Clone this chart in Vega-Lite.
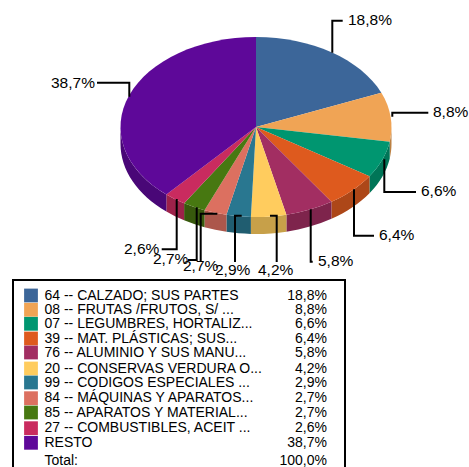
{"$schema":"https://vega.github.io/schema/vega-lite/v6.json","background":"white","padding":{"left":12,"top":0,"right":0,"bottom":0},"spacing":0,"bounds":"flush","datasets":{"rows":[{"rank":1,"name":"64 -- CALZADO; SUS PARTES","value":18.8,"label":"18,8%"},{"rank":2,"name":"08 -- FRUTAS /FRUTOS, S/ ...","value":8.8,"label":"8,8%"},{"rank":3,"name":"07 -- LEGUMBRES, HORTALIZ...","value":6.6,"label":"6,6%"},{"rank":4,"name":"39 -- MAT. PLÁSTICAS; SUS...","value":6.4,"label":"6,4%"},{"rank":5,"name":"76 -- ALUMINIO Y SUS MANU...","value":5.8,"label":"5,8%"},{"rank":6,"name":"20 -- CONSERVAS VERDURA O...","value":4.2,"label":"4,2%"},{"rank":7,"name":"99 -- CODIGOS ESPECIALES ...","value":2.9,"label":"2,9%"},{"rank":8,"name":"84 -- MÁQUINAS Y APARATOS...","value":2.7,"label":"2,7%"},{"rank":9,"name":"85 -- APARATOS Y MATERIAL...","value":2.7,"label":"2,7%"},{"rank":10,"name":"27 -- COMBUSTIBLES, ACEIT ...","value":2.6,"label":"2,6%"},{"rank":11,"name":"RESTO","value":38.7,"label":"38,7%"},{"rank":12,"name":"Total:","value":100,"label":"100,0%"}]},"vconcat":[{"width":455,"height":280,"view":{"stroke":null},"data":{"name":"rows"},"transform":[{"filter":"datum.rank <= 11"}],"resolve":{"scale":{"shape":"independent","color":"independent"}},"layer":[{"transform":[{"filter":"datum.rank >= 2"}],"mark":{"type":"point","filled":true,"opacity":1,"size":4,"strokeWidth":0},"encoding":{"shape":{"field":"name","type":"nominal","legend":null,"scale":{"domain":["08 -- FRUTAS /FRUTOS, S/ ...","07 -- LEGUMBRES, HORTALIZ...","39 -- MAT. PLÁSTICAS; SUS...","76 -- ALUMINIO Y SUS MANU...","20 -- CONSERVAS VERDURA O...","99 -- CODIGOS ESPECIALES ...","84 -- MÁQUINAS Y APARATOS...","85 -- APARATOS Y MATERIAL...","27 -- COMBUSTIBLES, ACEIT ...","RESTO"],"range":["M151 -13A135.5 90 0 0 1 149.2 1.63L149.2 18.63A135.5 90 0 0 0 151 4Z","M149.2 1.63A135.5 90 0 0 1 128.98 36.18L128.98 53.18A135.5 90 0 0 0 149.2 18.63Z","M128.98 36.18A135.5 90 0 0 1 90.95 61.75L90.95 78.75A135.5 90 0 0 0 128.98 53.18Z","M90.95 61.75A135.5 90 0 0 1 45.89 74.71L45.89 91.71A135.5 90 0 0 0 90.95 78.75Z","M45.89 74.71A135.5 90 0 0 1 10.39 76.94L10.39 93.94A135.5 90 0 0 0 45.89 91.71Z","M10.39 76.94A135.5 90 0 0 1 -14.05 74.83L-14.05 91.83A135.5 90 0 0 0 10.39 93.94Z","M-14.05 74.83A135.5 90 0 0 1 -35.96 70.26L-35.96 87.26A135.5 90 0 0 0 -14.05 91.83Z","M-35.96 70.26A135.5 90 0 0 1 -56.38 63.29L-56.38 80.29A135.5 90 0 0 0 -35.96 87.26Z","M-56.38 63.29A135.5 90 0 0 1 -74.11 54.51L-74.11 71.51A135.5 90 0 0 0 -56.38 80.29Z","M-74.11 54.51A135.5 90 0 0 1 -120 -13L-120 4A135.5 90 0 0 0 -74.11 71.51Z"]}},"color":{"field":"name","type":"nominal","legend":null,"scale":{"domain":["08 -- FRUTAS /FRUTOS, S/ ...","07 -- LEGUMBRES, HORTALIZ...","39 -- MAT. PLÁSTICAS; SUS...","76 -- ALUMINIO Y SUS MANU...","20 -- CONSERVAS VERDURA O...","99 -- CODIGOS ESPECIALES ...","84 -- MÁQUINAS Y APARATOS...","85 -- APARATOS Y MATERIAL...","27 -- COMBUSTIBLES, ACEIT ...","RESTO"],"range":["#BB8042","#007557","#AD4718","#7E244C","#C7A049","#205D70","#AC574B","#37590D","#9D224A","#490777"]}}}},{"mark":{"type":"point","filled":true,"opacity":1,"size":4,"strokeWidth":0},"encoding":{"shape":{"field":"name","type":"nominal","legend":null,"scale":{"domain":["64 -- CALZADO; SUS PARTES","08 -- FRUTAS /FRUTOS, S/ ...","07 -- LEGUMBRES, HORTALIZ...","39 -- MAT. PLÁSTICAS; SUS...","76 -- ALUMINIO Y SUS MANU...","20 -- CONSERVAS VERDURA O...","99 -- CODIGOS ESPECIALES ...","84 -- MÁQUINAS Y APARATOS...","85 -- APARATOS Y MATERIAL...","27 -- COMBUSTIBLES, ACEIT ...","RESTO"],"range":["M15.5 -13L15.5 -103A135.5 90 0 0 1 140.84 -47.18Z","M15.5 -13L140.84 -47.18A135.5 90 0 0 1 149.2 1.63Z","M15.5 -13L149.2 1.63A135.5 90 0 0 1 128.98 36.18Z","M15.5 -13L128.98 36.18A135.5 90 0 0 1 90.95 61.75Z","M15.5 -13L90.95 61.75A135.5 90 0 0 1 45.89 74.71Z","M15.5 -13L45.89 74.71A135.5 90 0 0 1 10.39 76.94Z","M15.5 -13L10.39 76.94A135.5 90 0 0 1 -14.05 74.83Z","M15.5 -13L-14.05 74.83A135.5 90 0 0 1 -35.96 70.26Z","M15.5 -13L-35.96 70.26A135.5 90 0 0 1 -56.38 63.29Z","M15.5 -13L-56.38 63.29A135.5 90 0 0 1 -74.11 54.51Z","M15.5 -13L-74.11 54.51A135.5 90 0 0 1 15.5 -103Z"]}},"color":{"field":"name","type":"nominal","legend":null,"scale":{"domain":["64 -- CALZADO; SUS PARTES","08 -- FRUTAS /FRUTOS, S/ ...","07 -- LEGUMBRES, HORTALIZ...","39 -- MAT. PLÁSTICAS; SUS...","76 -- ALUMINIO Y SUS MANU...","20 -- CONSERVAS VERDURA O...","99 -- CODIGOS ESPECIALES ...","84 -- MÁQUINAS Y APARATOS...","85 -- APARATOS Y MATERIAL...","27 -- COMBUSTIBLES, ACEIT ...","RESTO"],"range":["#3C6699","#F0A455","#009670","#DE5A1E","#A22E62","#FFCC5E","#297790","#DC7060","#477811","#C92B5F","#5E0899"]}}}},{"mark":{"type":"point","filled":false,"fill":null,"opacity":1,"size":4,"stroke":"black","strokeWidth":2},"encoding":{"shape":{"field":"name","type":"nominal","legend":null,"scale":{"domain":["64 -- CALZADO; SUS PARTES","08 -- FRUTAS /FRUTOS, S/ ...","07 -- LEGUMBRES, HORTALIZ...","39 -- MAT. PLÁSTICAS; SUS...","76 -- ALUMINIO Y SUS MANU...","20 -- CONSERVAS VERDURA O...","99 -- CODIGOS ESPECIALES ...","84 -- MÁQUINAS Y APARATOS...","85 -- APARATOS Y MATERIAL...","27 -- COMBUSTIBLES, ACEIT ...","RESTO"],"range":["M91.8 -87.3L91.8 -119.3L102.2 -119.3","M151.8 -23.3L151.8 -27.3L187.8 -27.3","M143.8 19.3L143.8 52L175.5 52","M113.5 49.3L113.5 95.7L133.5 95.7","M70.2 69.3L70.2 121.7L72.2 121.7","M29.5 75.7L36.2 75.7L36.2 122","M1.2 75.7L-5.5 75.7L-5.5 122","M-23.2 73.7L-39.8 73.7L-39.8 122","M-43.8 67.3L-43.8 120L-52.5 120","M-63.8 59L-63.8 109.3L-78.8 109.3","M-111.2 -43.3L-111.2 -57.3L-143.5 -57.3"]}}}},{"mark":{"type":"text","font":"Liberation Sans","fontSize":15.5,"align":"left","baseline":"middle","color":"black"},"encoding":{"x":{"field":"rank","type":"quantitative","axis":null,"scale":{"domain":[1,2,3,4,5,6,7,8,9,10,11],"range":[335,420,408,366,305,245,202,170,140,111,38]}},"y":{"field":"rank","type":"quantitative","axis":null,"scale":{"domain":[1,2,3,4,5,6,7,8,9,10,11],"range":[20,112,191,235,261,270,270,266,259,249,83]}},"text":{"field":"label","type":"nominal"}}}]},{"width":332,"height":190,"view":{"stroke":"black","strokeWidth":2,"fill":"white"},"data":{"name":"rows"},"encoding":{"y":{"field":"rank","type":"quantitative","axis":null,"scale":{"domain":[1,2,3,4,5,6,7,8,9,10,11,12],"range":[15.5,29.8,43.8,58.5,72.5,88.5,102.5,118.2,132.5,148.2,162.8,180.5]}}},"layer":[{"transform":[{"filter":"datum.rank <= 11"}],"mark":{"type":"point","shape":"square","filled":true,"opacity":1,"size":190,"strokeWidth":0},"encoding":{"x":{"datum":0,"type":"quantitative","axis":null,"scale":{"domain":[0,1,2],"range":[18,31.5,314]}},"color":{"field":"rank","type":"ordinal","legend":null,"scale":{"domain":[1,2,3,4,5,6,7,8,9,10,11],"range":["#3C6699","#F0A455","#009670","#DE5A1E","#A22E62","#FFCC5E","#297790","#DC7060","#477811","#C92B5F","#5E0899"]}}}},{"mark":{"type":"text","font":"Liberation Sans","fontSize":14,"align":"left","baseline":"middle","color":"black"},"encoding":{"x":{"datum":1,"type":"quantitative"},"text":{"field":"name","type":"nominal"}}},{"mark":{"type":"text","font":"Liberation Sans","fontSize":14,"align":"right","baseline":"middle","color":"black"},"encoding":{"x":{"datum":2,"type":"quantitative"},"text":{"field":"label","type":"nominal"}}}]}]}
